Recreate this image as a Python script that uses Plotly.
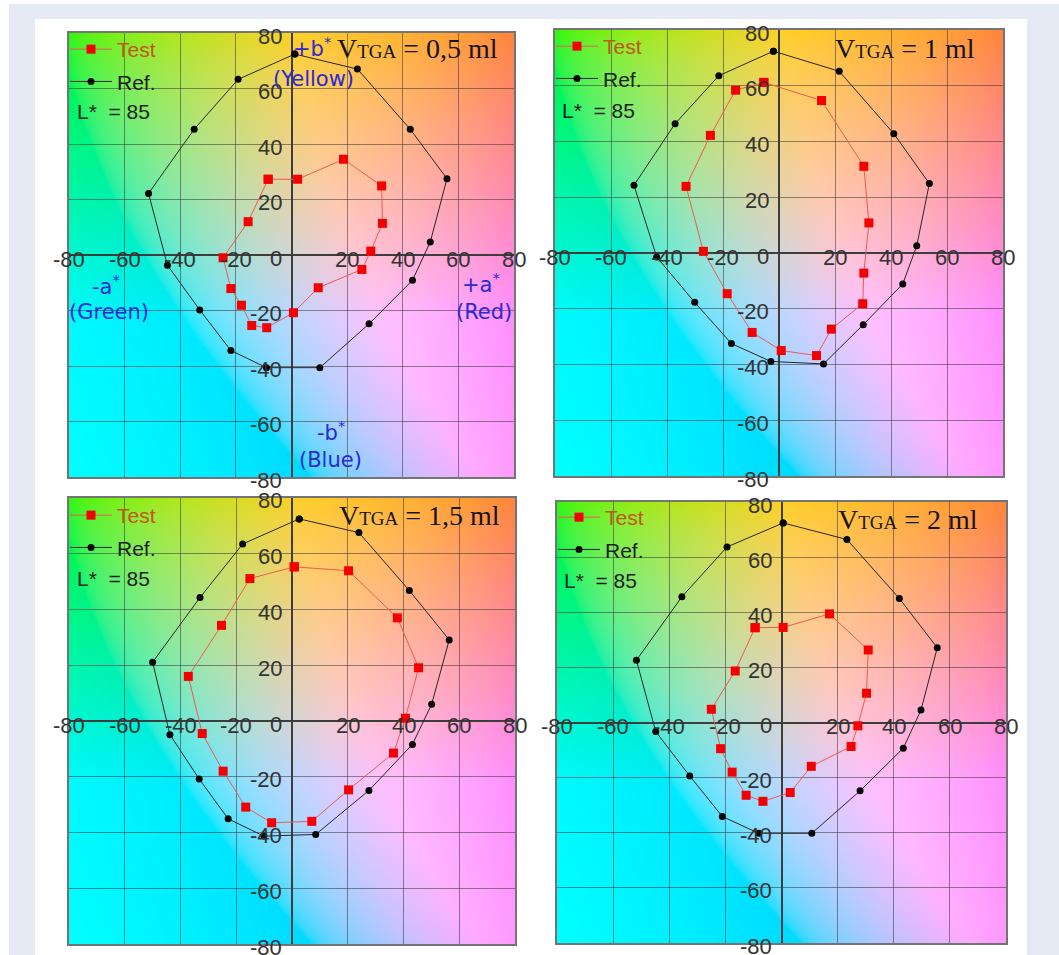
import base64
import struct
import zlib

import numpy as np
import plotly.graph_objects as go

W, H = 1059, 955

# ---- CIELab a*/b* readings (L* = 85) ----
panel_titles = ["0,5", "1", "1,5", "2"]

ref_a_1 = [1.2, 23.7, 42.7, 55.9, 49.9, 43.5, 27.9, 10.2, -9.0, -21.8, -33.0, -44.6, -51.4, -35.0, -19.2]
ref_b_1 = [72.4, 67.0, 45.3, 27.5, 4.7, -9.1, -24.8, -40.6, -40.6, -34.4, -19.8, -3.7, 22.2, 45.3, 63.3]
test_a_1 = [-8.4, 2.2, 18.7, 32.4, 32.7, 28.5, 25.3, 9.6, 0.7, -8.9, -14.3, -18.0, -21.8, -24.6, -15.6]
test_b_1 = [27.3, 27.3, 34.5, 24.9, 11.4, 1.4, -5.2, -11.8, -20.8, -26.2, -25.4, -18.1, -12.1, -1.0, 12.0]

ref_a_2 = [-2.0, 21.5, 41.0, 53.7, 49.2, 44.2, 30.1, 15.9, -2.9, -17.0, -30.1, -43.7, -51.8, -37.1, -21.5]
ref_b_2 = [72.4, 65.2, 42.8, 24.9, 2.6, -11.1, -25.7, -39.8, -38.9, -32.5, -17.7, -1.4, 24.3, 46.4, 63.6]
test_a_2 = [-5.4, -15.5, -24.5, -33.2, -27.0, -18.5, -9.6, 0.8, 13.4, 18.7, 29.9, 30.3, 32.1, 30.3, 15.2]
test_b_2 = [61.2, 58.4, 42.2, 23.9, 0.6, -14.6, -28.5, -35.0, -36.8, -27.3, -18.2, -7.2, 10.8, 31.1, 54.7]

ref_a_3 = [2.6, 24.0, 42.1, 56.4, 50.1, 43.2, 27.6, 8.5, -10.1, -22.9, -33.3, -43.8, -50.0, -33.0, -17.7]
ref_b_3 = [72.5, 67.6, 46.8, 29.1, 6.0, -8.4, -24.9, -40.7, -41.3, -35.1, -20.8, -4.9, 21.1, 44.3, 63.5]
test_a_3 = [0.8, 20.3, 37.8, 45.4, 40.7, 36.4, 20.3, 7.1, -7.3, -16.6, -24.7, -32.2, -37.2, -25.3, -15.1]
test_b_3 = [55.3, 53.9, 37.0, 19.1, 1.0, -11.5, -24.7, -36.0, -36.5, -30.9, -18.0, -4.5, 16.0, 34.3, 51.1]

ref_a_4 = [0.6, 23.3, 42.0, 55.5, 49.7, 43.4, 28.0, 10.8, -8.1, -21.1, -32.7, -44.8, -51.7, -35.5, -19.4]
ref_b_4 = [72.4, 66.4, 45.0, 27.1, 4.5, -9.3, -24.8, -40.2, -40.2, -34.1, -19.4, -3.3, 22.6, 45.6, 63.7]
test_a_4 = [-9.4, 0.6, 17.1, 30.9, 30.3, 27.2, 24.8, 10.6, 3.1, -6.6, -12.6, -17.6, -21.7, -25.0, -16.5]
test_b_4 = [34.4, 34.5, 39.4, 26.3, 10.6, -1.2, -8.7, -15.9, -25.4, -28.6, -26.4, -18.0, -9.5, 4.8, 18.7]

ref_a = [ref_a_1, ref_a_2, ref_a_3, ref_a_4]
ref_b = [ref_b_1, ref_b_2, ref_b_3, ref_b_4]
test_a = [test_a_1, test_a_2, test_a_3, test_a_4]
test_b = [test_b_1, test_b_2, test_b_3, test_b_4]

tick_values = [-80, -60, -40, -20, 0, 20, 40, 60, 80]
tick_labels = ["-80", "-60", "-40", "-20", "0", "20", "40", "60", "80"]

# plot areas in pixels: (left, right, top, bottom)
panel_px = [(69, 514, 33, 477), (555, 1003, 30, 476), (69, 515, 498, 944), (557, 1006, 502, 943)]
legend_top_px = [29, 26, 495, 497]
lstar_px = [(75, 112), (560, 110), (75, 578), (562, 580)]
title_px = [(500, 48), (977, 48), (502, 515), (980, 519)]


def px_x(v):
    return v / W


def px_y(v):
    return 1 - v / H


# ---- a*b* colour plane at L* = 85, clipped to sRGB ----
def lab_plane(L=85.0, n=220):
    a = np.linspace(-80, 80, n)
    b = np.linspace(80, -80, n)
    A, B = np.meshgrid(a, b)
    fy = (L + 16) / 116
    fx = fy + A / 500
    fz = fy - B / 200

    def finv(t):
        return np.where(t > 6 / 29, t ** 3, 3 * (6 / 29) ** 2 * (t - 4 / 29))

    X = 0.95047 * finv(fx)
    Y = 1.0 * finv(np.full_like(A, fy))
    Z = 1.08883 * finv(fz)
    r = 3.2406 * X - 1.5372 * Y - 0.4986 * Z
    g = -0.9689 * X + 1.8758 * Y + 0.0415 * Z
    bl = 0.0557 * X - 0.2040 * Y + 1.0570 * Z
    rgb = np.stack([r, g, bl], axis=-1)
    rgb = np.clip(rgb, 0, 1)
    rgb = np.where(rgb <= 0.0031308, 12.92 * rgb, 1.055 * rgb ** (1 / 2.4) - 0.055)
    return (np.clip(rgb, 0, 1) * 255).round().astype(np.uint8)


def png_uri(img):
    h, w, _ = img.shape
    raw = b"".join(b"\x00" + img[i].tobytes() for i in range(h))

    def chunk(tag, data):
        return (struct.pack(">I", len(data)) + tag + data
                + struct.pack(">I", zlib.crc32(tag + data) & 0xFFFFFFFF))

    png = (b"\x89PNG\r\n\x1a\n"
           + chunk(b"IHDR", struct.pack(">IIBBBBB", w, h, 8, 2, 0, 0, 0))
           + chunk(b"IDAT", zlib.compress(raw, 9))
           + chunk(b"IEND", b""))
    return "data:image/png;base64," + base64.b64encode(png).decode()


plane_uri = png_uri(lab_plane())

SANS = "Liberation Sans, Arial, sans-serif"
WIDE = "DejaVu Sans, Verdana, sans-serif"
SERIF = "Liberation Serif, Times New Roman, serif"

fig = go.Figure()
layout = dict(
    width=W, height=H,
    margin=dict(l=0, r=0, t=0, b=0),
    paper_bgcolor="white",
    plot_bgcolor="rgba(0,0,0,0)",
    showlegend=True,
    shapes=[
        dict(type="rect", xref="paper", yref="paper", x0=px_x(9), x1=1, y0=0, y1=px_y(4),
             fillcolor="#e5e9f4", line=dict(width=0), layer="below"),
        dict(type="rect", xref="paper", yref="paper", x0=px_x(35), x1=px_x(1027), y0=0, y1=px_y(19),
             fillcolor="white", line=dict(width=0), layer="below"),
    ],
    images=[],
    annotations=[],
)

for i in range(4):
    k = "" if i == 0 else str(i + 1)
    xa, ya = "x" + k, "y" + k
    left, right, top, bottom = panel_px[i]
    axis_common = dict(
        range=[-80, 80], tick0=0, dtick=20, showticklabels=False, ticks="",
        showgrid=True, gridcolor="rgba(55,55,55,0.55)", gridwidth=1,
        zeroline=True, zerolinecolor="#3d3d3d", zerolinewidth=2,
        showline=True, mirror=True, linecolor="#747474", linewidth=2,
        fixedrange=True,
    )
    layout["xaxis" + k] = dict(axis_common, domain=[px_x(left), px_x(right)], anchor=ya)
    layout["yaxis" + k] = dict(axis_common, domain=[px_y(bottom), px_y(top)], anchor=xa)

    layout["images"].append(dict(
        source=plane_uri, xref=xa, yref=ya, x=-80, y=80, sizex=160, sizey=160,
        sizing="stretch", layer="below", xanchor="left", yanchor="top",
    ))

    leg = "legend" if i == 0 else "legend" + str(i + 1)
    layout[leg] = dict(
        x=px_x(left - 4), y=px_y(legend_top_px[i]), xanchor="left", yanchor="top",
        bgcolor="rgba(0,0,0,0)", borderwidth=0,
        font=dict(family=SANS, size=21, color="#1e1e1e"),
        tracegroupgap=2, itemwidth=42,
    )

    # closed outlines
    ra = ref_a[i] + ref_a[i][:1]
    rb = ref_b[i] + ref_b[i][:1]
    ta = test_a[i] + test_a[i][:1]
    tb = test_b[i] + test_b[i][:1]

    fig.add_trace(go.Scatter(
        x=ra, y=rb, mode="lines+markers", xaxis=xa, yaxis=ya,
        name="Ref.", legend=leg, legendgroup="ref" + k, legendrank=2,
        line=dict(color="#262626", width=1),
        marker=dict(symbol="circle", size=7, color="#050505"),
        hoverinfo="x+y",
    ))
    fig.add_trace(go.Scatter(
        x=ta, y=tb, mode="lines+markers", xaxis=xa, yaxis=ya,
        name="<span style='color:#c2561c'>Test</span>", legend=leg,
        legendgroup="test" + k, legendrank=1,
        line=dict(color="#ec5a55", width=1),
        marker=dict(symbol="square", size=9, color="#f40000"),
        hoverinfo="x+y",
    ))

    # tick labels placed along the zero lines
    for v, lab in zip(tick_values, tick_labels):
        if v != 0:
            layout["annotations"].append(dict(
                x=v, y=0, xref=xa, yref=ya, text=lab, showarrow=False,
                xanchor="center", yanchor="middle", yshift=-4,
                font=dict(family=SANS, size=22, color="#333333"),
            ))
        layout["annotations"].append(dict(
            x=0, y=v, xref=xa, yref=ya, text=lab, showarrow=False,
            xanchor="right", yanchor="middle", xshift=-8, yshift=-3,
            font=dict(family=SANS, size=22, color="#333333"),
        ))

    lx, ly = lstar_px[i]
    layout["annotations"].append(dict(
        x=px_x(lx), y=px_y(ly), xref="paper", yref="paper",
        text="L*&nbsp;&nbsp;= 85", showarrow=False, xanchor="left", yanchor="middle",
        font=dict(family=SANS, size=21, color="#1e1e1e"),
    ))

    tx, ty = title_px[i]
    layout["annotations"].append(dict(
        x=px_x(tx), y=px_y(ty), xref="paper", yref="paper",
        text="V<span style='font-size:19px'>TGA</span> = " + panel_titles[i] + " ml",
        showarrow=False, xanchor="right", yanchor="middle",
        font=dict(family=SERIF, size=28, color="#151515"),
    ))

# axis direction labels on the first plane
direction_labels = [
    ("+b<sup>*</sup>", 7.5, 75.0),
    ("(Yellow)", 8.0, 63.5),
    ("-a<sup>*</sup>", -66.7, -10.8),
    ("(Green)", -65.6, -20.5),
    ("+a<sup>*</sup>", 68.2, -10.1),
    ("(Red)", 69.2, -20.5),
    ("-b<sup>*</sup>", 14.2, -63.4),
    ("(Blue)", 14.2, -73.9),
]
for txt, x, y in direction_labels:
    layout["annotations"].append(dict(
        x=x, y=y, xref="x", yref="y", text=txt, showarrow=False,
        xanchor="center", yanchor="middle",
        font=dict(family=WIDE, size=21, color="#2a2ad2"),
    ))

fig.update_layout(**layout)
fig.write_html("out.html")
